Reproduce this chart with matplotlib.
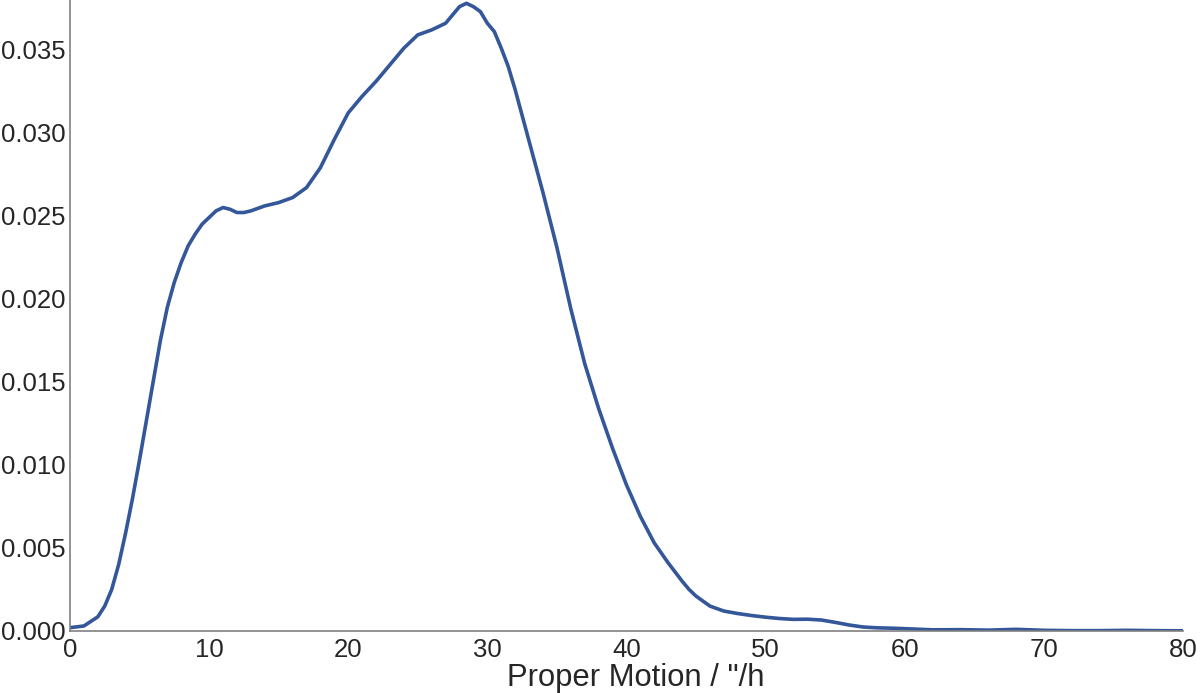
import matplotlib
matplotlib.use("Agg")
import matplotlib.pyplot as plt

# Proper motion (arcsec/h) and KDE density values
motion = [0, 1, 2, 2.5, 3, 3.5, 4, 4.5, 5, 5.5, 6, 6.5, 7, 7.5, 8, 8.5, 9, 9.5,
          10, 10.5, 11, 11.5, 12, 12.5, 13, 14, 15, 16, 17, 18, 19,
          20, 21, 22, 23, 24, 25, 26, 26.5, 27, 27.5, 28, 28.5, 29, 29.5, 30,
          30.5, 31, 31.5, 32, 33, 34, 35, 36, 37, 38, 39, 40, 41, 42, 43, 44,
          44.5, 45, 45.5, 46, 46.5, 47, 48, 49, 50, 51, 52, 53, 54, 55, 56, 57,
          58, 59, 60, 62, 64, 66, 68, 70, 72, 74, 76, 78, 80]
density = [0.00020, 0.00030, 0.00085, 0.0015, 0.0025, 0.0040, 0.0059, 0.0080,
           0.0103, 0.0127, 0.0151, 0.0175, 0.0195, 0.0210, 0.0222, 0.0232,
           0.0239, 0.0245, 0.0249, 0.0253, 0.0255, 0.0254, 0.0252, 0.0252,
           0.0253, 0.0256, 0.0258, 0.0261, 0.0267, 0.0279, 0.0296, 0.0312,
           0.0322, 0.0331, 0.0341, 0.0351, 0.0359, 0.0362, 0.0364, 0.0366,
           0.0371, 0.0376, 0.0378, 0.0376, 0.0373, 0.0366, 0.0361, 0.0351,
           0.0340, 0.0326, 0.0295, 0.0264, 0.0231, 0.0194, 0.0161, 0.0134,
           0.0110, 0.0088, 0.0069, 0.0053, 0.0041, 0.0030, 0.0025, 0.0021,
           0.0018, 0.0015, 0.00135, 0.0012, 0.00105, 0.00093, 0.00083, 0.00075,
           0.00070, 0.00071, 0.00066, 0.00052, 0.00036, 0.00024, 0.00019,
           0.00017, 0.00014, 0.00007, 0.00008, 0.00005, 0.00010, 0.00004,
           0.00002, 0.00002, 0.00004, 0.00002, 0.00001]

x_ticks = [0, 10, 20, 30, 40, 50, 60, 70, 80]
y_ticks = [0.000, 0.005, 0.010, 0.015, 0.020, 0.025, 0.030, 0.035]

plt.rcParams['font.family'] = ['Liberation Sans', 'DejaVu Sans']

fig = plt.figure(figsize=(12, 6.93), dpi=100)
ax = fig.add_axes([0.0583, 0.0895, 0.9275, 0.9105])

ax.plot(motion, density, color="#34579a", lw=2.6, solid_capstyle="round",
        solid_joinstyle="round")

ax.set_xlim(0, 80)
ax.set_ylim(0, 0.038)
ax.set_xticks(x_ticks)
ax.set_yticks(y_ticks)
ax.set_yticklabels([f"{v:.3f}" for v in y_ticks])
ax.tick_params(length=0, labelsize=18.5, colors="#262626", pad=3)
ax.tick_params(axis="x", pad=5)
ax.set_xlabel('Proper Motion / "/h', fontsize=22.3, color="#262626")
ax.xaxis.set_label_coords(0.508, -0.050, transform=ax.transAxes)
ax.xaxis.label.set_va("top")

for s in ["top", "right"]:
    ax.spines[s].set_visible(False)
for s in ["left", "bottom"]:
    ax.spines[s].set_color("#808080")
    ax.spines[s].set_linewidth(1.2)

fig.savefig("out.png", dpi=100)
